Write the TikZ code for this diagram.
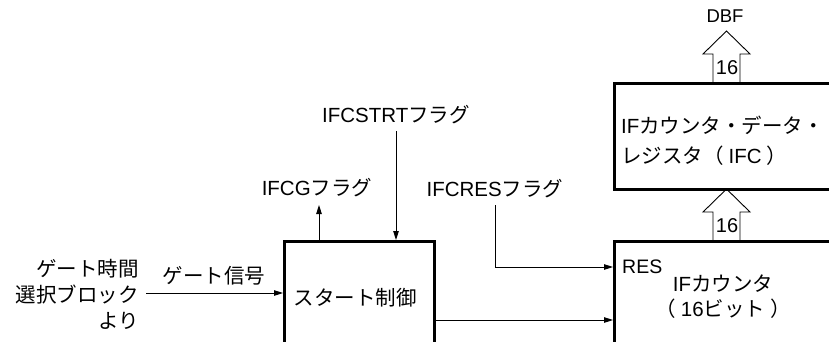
\documentclass[tikz,border=0pt]{standalone}
\usepackage{fontspec}
\setmainfont{Liberation Sans}
\newfontfamily\jpfont{Noto Sans CJK JP}
\newcommand\jpt[1]{{\jpfont #1}}
\usetikzlibrary{arrows.meta}
\tikzset{
  x=1pt,y=-1pt,
  txt/.style={inner sep=0pt, font=\fontsize{20.5}{26}\selectfont},
  blk/.style={draw, line width=2.6pt, inner sep=0pt, anchor=north west},
  arr/.style={line width=0.9pt, -{Triangle[length=9pt,width=5.5pt]}},
  bus/.style={line width=0.9pt, line join=miter},
  buslbl/.style={inner sep=0pt, font=\fontsize{20}{22}\selectfont},
}
\begin{document}
\begin{tikzpicture}
\useasboundingbox (0,0) rectangle (829,341);
\clip (0,0) rectangle (829,341);
% blocks
\node[blk, minimum width=150pt, minimum height=140pt] (start) at (283,240) {};
\node[blk, minimum width=260pt, minimum height=140pt] (cnt) at (613,240) {};
\node[blk, minimum width=260pt, minimum height=106pt] (reg) at (613,82) {};
% texts
\node[txt] (starttxt) at (355,298) {\jpt{スタート制御}};
\node[txt, align=right, anchor=east, font=\fontsize{20.5}{26}\selectfont] (src) at (139,294) {\jpt{ゲート時間}\\\jpt{選択ブロック}\\\jpt{より}};
\node[txt] (gatelbl) at (214,276) {\jpt{ゲート信号}};
\node[txt] (strt) at (396,115) {IFCSTRT\jpt{フラグ}};
\node[txt] (ifcg) at (317,188) {IFCG\jpt{フラグ}};
\node[txt] (ifcres) at (495,189) {IFCRES\jpt{フラグ}};
\node[txt, align=left, anchor=west, font=\fontsize{20.5}{30}\selectfont] (regtxt) at (621,141) {IF\jpt{カウンタ・データ・}\\\jpt{レジスタ（}\hspace{5pt}IFC\hspace{5pt}\jpt{）}};
\node[txt, font=\fontsize{19.5}{26}\selectfont, anchor=west] (res) at (622,267) {RES};
\node[txt, align=center, font=\fontsize{20.5}{25}\selectfont] (cnttxt) at (723,297) {IF\jpt{カウンタ}\\\jpt{（}\hspace{5pt}16\jpt{ビット}\hspace{5pt}\jpt{）}};
\node[txt, font=\fontsize{18.5}{20}\selectfont] (dbf) at (725,16) {DBF};
% coordinates
\coordinate (g1) at (146,293);
\coordinate (cg) at (319,205);
\coordinate (strtend) at (396,131);
\coordinate (res1) at (495,205);
\coordinate (out1) at (433,320);
% connectors
\draw[arr] (g1) -- (g1 -| start.west);
\draw[arr] (cg |- start.north) -- (cg);
\draw[arr] (strtend) -- (strtend |- start.north);
\draw[arr] (res1) |- (res1 |- res.west) -- (cnt.west |- res.west);
\draw[arr] (out1) -- (out1 -| cnt.west);
% bus arrows
\draw[bus] (713,82) -- (713,54) -- (703,54) -- (726.5,31) -- (750,54) -- (740,54) -- (740,82);
\node[buslbl] (b1) at (727,68) {16};
\draw[bus] (713,240) -- (713,212) -- (703,212) -- (726.5,189) -- (750,212) -- (740,212) -- (740,240);
\node[buslbl] (b2) at (727,226) {16};
\end{tikzpicture}
\end{document}
